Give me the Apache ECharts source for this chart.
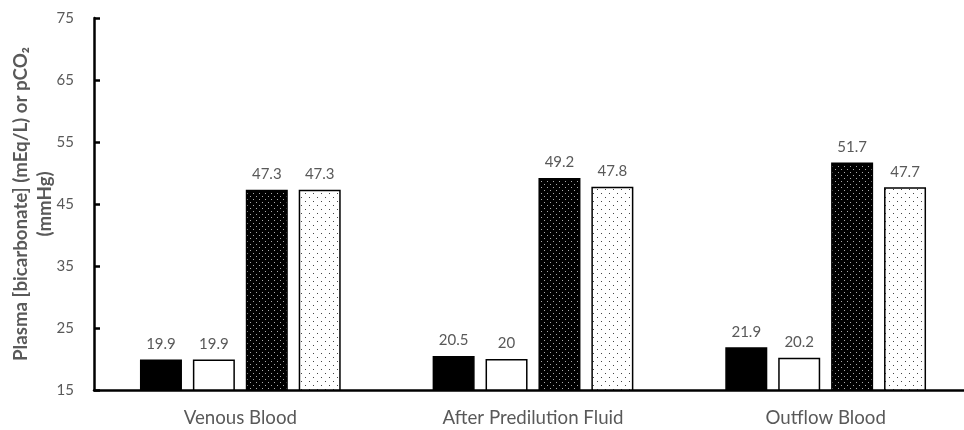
<!DOCTYPE html>
<html>
<head>
<meta charset="utf-8">
<script src="https://cdn.jsdelivr.net/npm/echarts@6/dist/echarts.min.js"></script>
<style>
html,body{margin:0;padding:0;background:#fff;}
#c{width:964px;height:430px;}
</style>
</head>
<body>
<div id="c"></div>
<script>
const categories = ['Venous Blood', 'After Predilution Fluid', 'Outflow Blood'];
const seriesA = [19.9, 20.5, 21.9];
const seriesB = [19.9, 20, 20.2];
const seriesC = [47.3, 49.2, 51.7];
const seriesD = [47.3, 47.8, 47.7];
const yTicks = [15, 25, 35, 45, 55, 65, 75];

function makePattern(bg, dot, size, pts) {
  const cv = document.createElement('canvas');
  cv.width = size; cv.height = size;
  const ctx = cv.getContext('2d');
  ctx.fillStyle = bg; ctx.fillRect(0, 0, size, size);
  ctx.fillStyle = dot;
  pts.forEach(p => ctx.fillRect(p[0], p[1], 1, 1));
  return cv;
}
const darkDots = makePattern('#000', '#aaa', 6, [[1,1],[4,4]]);
const lightDots = makePattern('#fff', '#444', 8, [[1,1],[5,5]]);

const FONT = 'Lato';
const GRAY = '#595959';
const labelCfg = {show: true, position: 'top', distance: 8, color: GRAY, fontSize: 15, fontFamily: FONT};

function bar(name, data, fill) {
  return {
    name, type: 'bar', data,
    barWidth: '14.35%', barGap: '26%',
    itemStyle: {color: fill, borderColor: '#000', borderWidth: 1.5},
    label: labelCfg
  };
}

const chart = echarts.init(document.getElementById('c'), null, {renderer: 'canvas'});
chart.setOption({
  animation: false,
  backgroundColor: '#fff',
  grid: {left: 94, right: -8, top: 18, bottom: 40, containLabel: false, outerBoundsMode: 'none'},
  xAxis: {
    type: 'category', data: categories,
    axisLine: {lineStyle: {color: '#000', width: 2.5}},
    axisTick: {show: false},
    axisLabel: {color: GRAY, fontSize: 18.7, fontFamily: FONT, margin: 18}
  },
  yAxis: {
    type: 'value', min: yTicks[0], max: yTicks[yTicks.length - 1], interval: 10,
    name: 'Plasma [bicarbonate] (mEq/L) or pCO\u2082\n(mmHg)',
    nameLocation: 'middle', nameGap: 37, nameRotate: 90, nameMoveOverlap: false,
    nameTextStyle: {color: GRAY, fontSize: 18.7, fontWeight: 'bold', fontFamily: FONT, lineHeight: 24},
    axisLine: {show: true, lineStyle: {color: '#000', width: 2.5}},
    axisTick: {show: true, inside: true, length: 6, lineStyle: {color: '#000', width: 2.5}},
    splitLine: {show: false},
    axisLabel: {color: GRAY, fontSize: 15, fontFamily: FONT, margin: 20}
  },
  series: [
    bar('A', seriesA, '#000'),
    bar('B', seriesB, '#fff'),
    bar('C', seriesC, {image: darkDots, repeat: 'repeat'}),
    bar('D', seriesD, {image: lightDots, repeat: 'repeat'})
  ]
});
</script>
</body>
</html>
